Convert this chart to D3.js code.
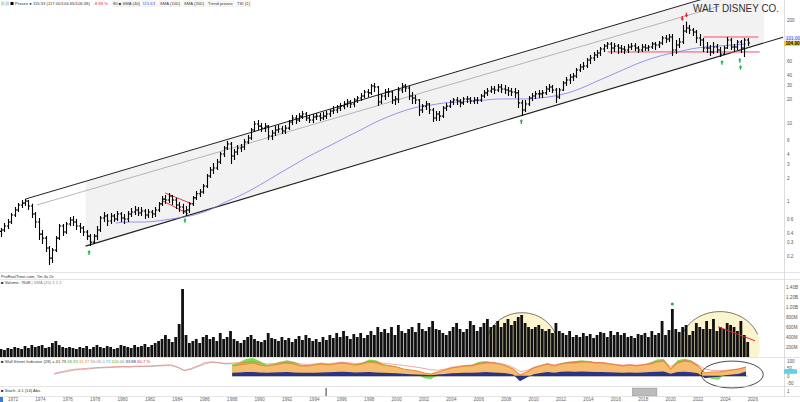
<!DOCTYPE html>
<meta charset="utf-8">
<title>Walt Disney Co.</title>
<style>
  body { margin: 0; background: #fff; }
  svg { display: block; font-family: "Liberation Sans", Arial, sans-serif; }
  .lab { font-size: 4.6px; fill: #555; }
  .hdr { font-size: 4.2px; fill: #333; }
</style>
<body>
<svg width="800" height="402"></svg>
<script src="https://cdnjs.cloudflare.com/ajax/libs/d3/7.8.5/d3.min.js"></script>
<script>
  // quarterly bars, 1971 Q1 .. 2025 Q3 (open = previous close)
  var firstYear = 1971;
  var firstOpen = 0.42;
  var high = [
    0.463,0.536,0.603,0.719, 0.858,0.96,1.05,1.08, 1.05,0.94,0.740,0.621, 0.437,0.366,0.273,0.258,
    0.366,0.521,0.521,0.552, 0.639,0.658,0.603,0.536, 0.491,0.437,0.388,0.388, 0.491,0.658,0.740,0.698,
    0.719,0.698,0.762,0.740, 0.698,0.762,0.833,0.884, 0.858,0.858,0.809,0.809, 0.785,0.858,0.99,1.18,
    1.22,1.29,1.22,1.12, 0.99,0.94,0.884,0.99, 1.18,1.37,1.45,1.68, 2.25,2.76,3.10,3.49,
    4.28,5.10,5.91,5.74, 4.67,5.25,5.41,6.27, 7.05,8.61,10.6,10.9, 10.0,10.0,9.4,8.15,
    9.13,9.4,9.13,9.4, 10.9,12.6,12.6,13.4, 14.2,13.8,12.6,13.0, 13.4,13.4,13.8,14.2,
    15.0,16.4,16.9,18.0, 19.0,20.2,19.6,20.8, 22.0,24.1,26.3,27.0, 31.3,32.2,29.5,23.4,
    27.0,27.8,25.5,22.0, 28.7,32.2,31.3,29.5, 24.8,22.7,20.2,17.4, 19.0,18.0,15.5,14.2,
    14.2,16.4,18.0,19.6, 20.8,21.4,20.2,21.4, 22.0,21.4,21.4,21.4, 23.4,26.3,27.8,29.5,
    29.5,31.3,31.3,30.4, 28.7,27.8,27.8,26.3, 19.6,19.6,22.0,24.1, 25.5,26.3,26.3,29.5,
    31.3,30.4,27.8,27.8, 34.2,38.4,41.9,43.1, 49.9,56.1,59.5,67.0, 73.1,79.9,84.7,92.4,
    101,107,107,104, 101,98,95.2,101, 104,104,95.2,101, 101,98,107,107,
    110,127,131,135, 135,113.5,120,176, 195,176,161,152, 135,120,107,98,
    107,101,92.4,95.2, 123.7,120,101,113.5, 113.5,120,120
  ];
  var low = [
    0.356,0.412,0.450,0.521, 0.639,0.740,0.833,0.884, 0.785,0.621,0.463,0.326, 0.290,0.229,0.157,0.166,
    0.229,0.326,0.366,0.388, 0.491,0.491,0.437,0.400, 0.366,0.326,0.273,0.290, 0.326,0.412,0.552,0.491,
    0.521,0.552,0.568,0.552, 0.521,0.552,0.639,0.678, 0.658,0.658,0.603,0.621, 0.621,0.639,0.740,0.884,
    0.94,0.96,0.91,0.809, 0.740,0.698,0.658,0.719, 0.884,1.05,1.15,1.26, 1.49,2.00,2.25,2.53,
    3.02,3.70,4.54,3.02, 3.39,3.92,4.28,4.54, 5.41,6.08,7.68,8.15, 7.68,7.68,6.08,6.08,
    6.85,7.46,7.25,7.25, 8.15,9.4,9.7,10.3, 11.2,10.6,10.0,10.0, 10.9,10.6,10.9,11.2,
    11.9,13.0,13.4,14.2, 15.0,15.9,15.5,15.9, 18.0,19.0,20.8,21.4, 22.7,24.8,16.4,17.4,
    19.6,21.4,17.4,16.9, 18.0,24.1,24.8,19.6, 17.4,17.4,12.24,13.4, 14.6,13.0,10.3,10.6,
    10.6,11.55,14.2,15.5, 16.9,16.9,15.9,16.9, 18.0,17.4,17.4,17.4, 18.5,20.8,22.0,24.1,
    23.4,24.8,24.1,23.4, 22.0,22.0,20.8,15.5, 12.24,13.8,16.4,19.0, 20.2,20.8,20.8,22.7,
    24.8,24.1,18.0,20.2, 25.5,29.5,31.3,34.2, 37.3,44.4,47.1,49.9, 56.1,61.3,67.0,71.0,
    79.9,87.2,75.3,79.9, 75.3,77.6,75.3,77.6, 84.7,82.3,77.6,79.9, 82.3,82.3,87.2,84.7,
    89.8,98,104,107, 71.0,75.3,89.8,101, 139.2,135.2,127.3,104, 95.2,79.9,77.6,71.0,
    75.3,77.6,69.0,73.1, 87.2,84.7,79.9,84.7, 77.6,69.0,95.2
  ];
  var close = [
    0.437,0.491,0.552,0.678, 0.785,0.91,0.96,1.02, 0.884,0.698,0.552,0.388, 0.345,0.258,0.192,0.243,
    0.345,0.491,0.412,0.521, 0.585,0.552,0.491,0.463, 0.412,0.366,0.307,0.366, 0.437,0.621,0.658,0.568,
    0.658,0.603,0.698,0.621, 0.603,0.698,0.740,0.785, 0.719,0.762,0.678,0.740, 0.698,0.785,0.94,1.08,
    1.05,1.18,1.05,0.91, 0.858,0.762,0.785,0.94, 1.12,1.26,1.33,1.58, 2.12,2.53,2.68,3.20,
    4.04,4.81,5.41,3.81, 4.28,4.81,4.95,5.74, 6.45,8.15,9.7,9.13, 8.61,9.13,6.85,7.46,
    8.15,8.37,7.91,8.61, 10.3,11.55,10.9,12.24, 13.0,11.55,10.9,11.9, 12.24,11.55,12.24,13.0,
    14.2,14.6,15.5,16.4, 17.4,18.5,17.4,19.6, 20.8,22.0,24.8,24.1, 29.5,28.7,18.5,22.0,
    24.8,24.8,19.6,20.2, 26.3,29.5,27.8,22.0, 20.8,19.6,14.6,16.4, 17.4,14.6,11.55,13.0,
    12.24,15.5,16.4,18.5, 19.6,19.0,18.0,20.2, 20.2,19.0,19.6,19.6, 22.0,24.1,25.5,27.0,
    26.3,28.7,27.0,26.3, 25.5,24.8,24.1,18.0, 14.6,17.4,20.8,22.0, 23.4,23.4,24.1,27.0,
    28.7,26.3,21.4,26.3, 32.2,35.2,38.4,39.5, 47.1,51.4,52.9,63.1, 67.0,73.1,77.6,87.2,
    95.2,101,89.8,95.2, 89.8,87.2,84.7,92.4, 95.2,89.8,84.7,92.4, 89.8,92.4,101,98,
    104,120,116.7,123.7, 84.7,98,107,147.6, 161,152,143.4,120, 113.5,89.8,89.8,79.9,
    92.4,84.7,75.3,89.8, 113.5,92.4,92.4,107, 89.8,113.5,104
  ];
  // quarterly volume, millions of shares
  var volume = [
    160,140,180,160, 200,180,160,220, 180,240,200,220, 240,180,200,280, 320,240,200,180,
    200,180,160,200, 180,220,160,200, 240,200,180,220, 200,160,180,240, 220,200,180,240,
    200,220,260,200, 240,280,320,360, 440,360,300,400, 660,1360,440,280, 320,360,280,400,
    440,360,400,320, 480,360,400,520, 360,320,280,340, 400,440,360,320, 300,340,480,380,
    360,320,400,340, 380,300,360,420, 340,440,380,320, 360,300,400,340, 440,380,480,400,
    520,420,360,460, 400,480,380,440, 520,440,600,500, 560,480,600,440, 640,520,480,560,
    600,500,680,560, 520,600,720,560, 540,480,440,520, 600,680,560,500, 560,720,640,520,
    600,680,760,600, 640,720,600,680, 760,640,720,800, 840,680,600,560, 600,640,560,520,
    560,480,680,520, 480,440,520,400, 440,400,480,420, 460,380,440,500, 480,400,520,440,
    500,440,480,400, 420,380,460,440, 480,400,520,440, 480,720,440,540, 960,560,500,600,
    640,440,520,680, 600,560,720,560, 760,520,600,560, 680,640,600,520, 720,440,300
  ];

  // long moving average, read yearly (mid-year)
  var maStart = 1979.5;
  var maValues = [0.536,0.552,0.552,0.568,0.603,0.639,0.698,0.809,0.99,1.18,1.45,1.83,2.32,2.93,3.70,
    4.54,5.57,6.85,8.37,10.3,12.24,14.2,15.9,16.9,18.0,18.5,19.0,19.6,20.2,20.2,20.2,20.8,22.0,24.1,
    27.8,33.2,39.5,47.1,56.1,65.0,73.1,79.9,87.2,92.4,95.2,98,101];

  // trend channel, [year, price] anchors
  var upperLine = [[1972.9, 1.08], [2021.0, 320]];
  var midLine = [[1973.75, 0.91], [2023.6, 307]];
  var lowerLine = [[1977.3, 0.273], [2028.2, 123]];
  var channelSpan = [1977.3, 2027.0];
  var wedgeLines = [[[1983.1, 1.29], [1985.05, 0.94]], [[1982.95, 1.02], [1984.8, 0.70]]];
  var redLevels = [[2022.4, 2026.4, 123.7], [2015.4, 2026.5, 79.9]];
  var buySignals = [[1977.55, 0.243], [1984.55, 0.62], [2009.1, 11.2], [2023.75, 63.1], [2025.05, 67.0], [2025.1, 54.5]];
  var sellSignals = [[2020.85, 198], [2021.15, 219]];
  var priceTicks = [200, 60, 40, 30, 20, 10, 6, 4, 3, 2, 1, 0.6, 0.4, 0.3, 0.2];

  // volume annotations
  var volDomes = [[2009.15, 2.63, 216, 670], [2023.6, 2.92, 216, 692]]; // centre year, half width (years), centre vol, radius vol
  var volTrend = [[2023.46, 605], [2026.16, 324]];
  var volSignal = [2020.125, 1060];
  var volTicks = [1400, 1200, 1000, 800, 600, 400, 200];

  // sentiment indicator, semi-annual
  var indStart = 1988;
  var orangeVals = [67,73,80,87,73,67,73,80,87,80, 67,67,73,80,73,80,87,80,73,80, 93,87,73,67,60,47,40,33,20,13,
    27,40,53,60,67,67,80,87,87,80, 67,47,7,27,53,67,80,67,80,87, 87,93,93,87,87,80,73,67,73,67,
    73,80,93,100,47,87,100,93,67,20, 27,27,33,40,47,60];
  var greenVals = [80,90,113,120,100,75,80,95,105,95, 75,70,78,85,78,85,92,85,78,90, 110,105,80,70,62,45,30,10,-15,-20,
    5,38,55,62,70,75,95,100,92,82, 68,45,0,25,55,70,85,70,85,95, 100,105,100,92,90,82,75,68,75,68,
    75,90,110,113,50,105,115,105,70,5, -20,-25,20,38,48,60];
  var navyVals = [22,24,26,27,24,22,23,25,26,24, 22,21,22,24,25,27,28,26,24,25, 27,24,22,20,18,15,12,10,8,6,
    10,14,18,20,22,22,24,26,24,22, 18,10,-35,-10,12,20,26,22,28,30, 28,30,28,26,27,25,24,22,24,22,
    24,26,28,30,15,26,28,25,18,-15, -8,-5,5,10,15,30];
  var redStart = 1975;
  var redVals = [18,28,38,45,48,52,55,58,60,62, 63,64,66,65,67,70,72,74,60,35, 50,68,88,95,90,84,86,88,92,96,
    88,80,82,88,94,90,80,76,80,86, 82,86,92,88,82,86,98,95,85,80, 76,70,64,58,50,42,38,45,58,64,
    70,72,84,90,90,85,74,58,30,36, 58,70,82,74,82,90,92,96,96,90, 90,84,78,72,76,72,76,84,96,102,
    62,90,102,98,75,45,38,35,38,42, 48,58];
  var greyVals = [12,22,30,40,44,46,52,54,56,58, 60,58,62,63,62,66,68,70,58,38, 45,62,80,90,86,80,82];
  var indRing = [2024.5, 2.26, 10, 89];  // centre year, half width (years), centre value, half height
  var indTicks = [100, 50, 0, -50];

  var stochMarks = [1994.85];
  var stochBlock = [2017.2, 2019.0];

  var yearTicks = d3.range(1972, 2027, 2);

  // ---------------------------------------------------------------
  var svg = d3.select('svg');
  var axisX = 784;
  var x = d3.scaleLinear().domain([1971.05, 2028.2]).range([0, 783]);
  var y = d3.scaleLog().domain([0.128, 365]).range([272, 0]);
  var yVol = d3.scaleLinear().domain([0, 1480]).range([357, 283]);
  var yInd = d3.scaleLinear().domain([-66, 126]).range([386, 357]);
  var qt = function (i) { return firstYear + i / 4 + 0.125; };

  var defs = svg.append('defs');
  function clip(id, y0, h) {
    defs.append('clipPath').attr('id', id).append('rect')
      .attr('x', 0).attr('y', y0).attr('width', axisX).attr('height', h);
  }
  clip('cp', 0, 272); clip('cv', 279, 78); clip('ci', 357, 29);

  function along(line, t) {
    var a = line[0], b = line[1], k = (t - a[0]) / (b[0] - a[0]);
    return Math.exp(Math.log(a[1]) + k * (Math.log(b[1]) - Math.log(a[1])));
  }

  // ---- price panel
  var gp = svg.append('g').attr('clip-path', 'url(#cp)');

  var ts = d3.range(channelSpan[0], channelSpan[1] + 0.01, 0.5);
  var poly = ts.map(function (t) { return [x(t), y(along(upperLine, t))]; })
    .concat(ts.slice().reverse().map(function (t) { return [x(t), y(along(lowerLine, t))]; }));
  gp.append('path').attr('d', 'M' + poly.join('L') + 'Z').attr('fill', '#f2f2f2');

  function seg(line, t0, t1, col, w) {
    gp.append('line')
      .attr('x1', x(t0)).attr('y1', y(along(line, t0)))
      .attr('x2', x(t1)).attr('y2', y(along(line, t1)))
      .attr('stroke', col).attr('stroke-width', w);
  }
  seg(upperLine, upperLine[0][0], 2024, '#222', 1);
  seg(midLine, midLine[0][0], midLine[1][0], '#9a9a9a', 0.7);
  seg(lowerLine, lowerLine[0][0], lowerLine[1][0], '#222', 1.1);

  var maLine = d3.line()
    .x(function (d, i) { return x(maStart + i); })
    .y(function (d) { return y(d); })
    .curve(d3.curveMonotoneX);
  gp.append('path').attr('d', maLine(maValues))
    .attr('fill', 'none').attr('stroke', '#7b7bf0').attr('stroke-width', 0.8);

  wedgeLines.forEach(function (l) {
    gp.append('line')
      .attr('x1', x(l[0][0])).attr('y1', y(l[0][1]))
      .attr('x2', x(l[1][0])).attr('y2', y(l[1][1]))
      .attr('stroke', '#e8202a').attr('stroke-width', 0.9);
  });
  redLevels.forEach(function (l) {
    gp.append('line')
      .attr('x1', x(l[0])).attr('x2', x(l[1]))
      .attr('y1', y(l[2])).attr('y2', y(l[2]))
      .attr('stroke', '#f0506a').attr('stroke-width', 1);
  });

  var bars = '';
  close.forEach(function (c, i) {
    var xi = Math.round(x(qt(i))) + 0.5;
    var o = i === 0 ? firstOpen : close[i - 1];
    bars += 'M' + xi + ',' + y(high[i]) + 'V' + y(low[i]) +
      'M' + (xi - 1.6) + ',' + y(o) + 'H' + xi +
      'M' + xi + ',' + y(c) + 'H' + (xi + 1.6);
  });
  gp.append('path').attr('d', bars).attr('fill', 'none').attr('stroke', '#000').attr('stroke-width', 1.1);

  buySignals.forEach(function (s) {
    var cx = x(s[0]), cy = y(s[1]);
    gp.append('path')
      .attr('d', 'M' + cx + ',' + cy + 'l-1.8,2.4h1.1v2.4h1.4v-2.4h1.1z')
      .attr('fill', '#22b14c');
  });
  sellSignals.forEach(function (s) {
    var cx = x(s[0]), cy = y(s[1]);
    gp.append('path')
      .attr('d', 'M' + cx + ',' + cy + 'l-1.8,-2.4h1.1v-2.4h1.4v2.4h1.1z')
      .attr('fill', '#e8202a');
  });

  svg.append('text').attr('x', 693).attr('y', 11.5)
    .attr('font-size', 11).attr('fill', '#333')
    .attr('textLength', 86).attr('lengthAdjust', 'spacingAndGlyphs')
    .text('WALT DISNEY CO.');

  // ---- volume panel
  var gv = svg.append('g').attr('clip-path', 'url(#cv)');
  var pxYear = x(1973) - x(1972), pxVol = yVol(0) - yVol(1);
  volDomes.forEach(function (d) {
    var cx = x(d[0]), cy = yVol(d[2]), rx = d[1] * pxYear, ry = d[3] * pxVol;
    gv.append('ellipse').attr('cx', cx).attr('cy', cy).attr('rx', rx).attr('ry', ry)
      .attr('fill', '#fcf4cc');
    var arc = d3.range(200, 341, 4).map(function (a) {
      var r = a * Math.PI / 180;
      return [cx + rx * Math.cos(r), cy + ry * Math.sin(r)];
    });
    gv.append('path').attr('d', 'M' + arc.join('L'))
      .attr('fill', 'none').attr('stroke', '#555').attr('stroke-width', 0.8);
  });
  gv.selectAll('rect.v').data(volume).enter().append('rect')
    .attr('x', function (d, i) { return x(qt(i)) - 1.4; })
    .attr('width', 2.8)
    .attr('y', function (d) { return yVol(d); })
    .attr('height', function (d) { return yVol(0) - yVol(d); })
    .attr('fill', '#111');
  gv.append('line')
    .attr('x1', x(volTrend[0][0])).attr('y1', yVol(volTrend[0][1]))
    .attr('x2', x(volTrend[1][0])).attr('y2', yVol(volTrend[1][1]))
    .attr('stroke', '#e8202a').attr('stroke-width', 1);
  gv.append('circle').attr('cx', x(volSignal[0])).attr('cy', yVol(volSignal[1]))
    .attr('r', 1.6).attr('fill', '#22b14c');

  // ---- indicator panel
  var gi = svg.append('g').attr('clip-path', 'url(#ci)');
  var it = function (i) { return indStart + i * 0.5; };
  function area(vals) {
    return d3.area().x(function (d, i) { return x(it(i)); })
      .y0(yInd(0)).y1(function (d) { return yInd(d); })(vals);
  }
  gi.append('path').attr('d', area(greenVals)).attr('fill', '#7fdc4e');
  gi.append('path').attr('d', area(orangeVals)).attr('fill', '#f6bd70');
  gi.append('path').attr('d', d3.line().x(function (d, i) { return x(it(i)); })
    .y(function (d) { return yInd(d); })(orangeVals))
    .attr('fill', 'none').attr('stroke', '#ea8d2c').attr('stroke-width', 1.1);
  gi.append('path').attr('d', area(navyVals)).attr('fill', '#2b3487');
  gi.append('line').attr('x1', x(indStart)).attr('x2', x(2025.6))
    .attr('y1', yInd(0)).attr('y2', yInd(0)).attr('stroke', '#333').attr('stroke-width', 0.6);
  var lineFrom = function (start) {
    return d3.line().x(function (d, i) { return x(start + i * 0.5); })
      .y(function (d) { return yInd(d); });
  };
  gi.append('path').attr('d', lineFrom(redStart)(greyVals))
    .attr('fill', 'none').attr('stroke', '#999').attr('stroke-width', 0.6);
  gi.append('path').attr('d', lineFrom(redStart)(redVals))
    .attr('fill', 'none').attr('stroke', '#ef6a6a').attr('stroke-width', 0.6);
  svg.append('ellipse')
    .attr('cx', x(indRing[0])).attr('cy', yInd(indRing[2]))
    .attr('rx', indRing[1] * pxYear).attr('ry', yInd(0) - yInd(indRing[3]))
    .attr('fill', 'none').attr('stroke', '#333').attr('stroke-width', 0.9);

  // ---- stoch strip
  stochMarks.forEach(function (t) {
    svg.append('rect').attr('x', x(t) - 0.5).attr('y', 388).attr('width', 1).attr('height', 8).attr('fill', '#333');
  });
  svg.append('rect').attr('x', x(stochBlock[0])).attr('y', 388)
    .attr('width', x(stochBlock[1]) - x(stochBlock[0])).attr('height', 8)
    .attr('fill', '#bbb').attr('stroke', '#888').attr('stroke-width', 0.4);

  // ---- frames and axes
  [272.5, 279.5, 357.5, 386.5, 396.5].forEach(function (yy) {
    svg.append('line').attr('x1', 0).attr('x2', 800).attr('y1', yy).attr('y2', yy)
      .attr('stroke', '#d4d4d4').attr('stroke-width', 0.6);
  });
  svg.append('line').attr('x1', axisX + 0.5).attr('x2', axisX + 0.5).attr('y1', 0).attr('y2', 397)
    .attr('stroke', '#cfcfcf').attr('stroke-width', 0.7);

  priceTicks.forEach(function (v) {
    svg.append('text').attr('class', 'lab').attr('x', 787).attr('y', y(v) + 1.6).text(v);
  });
  var last = close[close.length - 1], lastMa = maValues[maValues.length - 1];
  svg.append('rect').attr('x', 784).attr('y', y(last) - 6.3).attr('width', 16).attr('height', 4.6).attr('fill', '#e4e4fb');
  svg.append('text').attr('class', 'lab').attr('x', 786).attr('y', y(last) - 2.5).style('fill', '#5050e0').text(lastMa.toFixed(2));
  svg.append('rect').attr('x', 784).attr('y', y(last) - 1.8).attr('width', 16).attr('height', 4.8).attr('fill', '#f3d416');
  svg.append('text').attr('class', 'lab').attr('x', 785.5).attr('y', y(last) + 1.8)
    .style('fill', '#000').attr('font-weight', 'bold').text(last.toFixed(2));

  volTicks.forEach(function (v) {
    svg.append('text').attr('class', 'lab').attr('x', 786).attr('y', yVol(v) + 1.6)
      .text(v >= 1000 ? (v / 1000).toFixed(2) + 'B' : v + 'M');
  });
  indTicks.forEach(function (v) {
    svg.append('text').attr('class', 'lab').attr('x', 787).attr('y', yInd(v) + 1.6).text(v);
  });
  svg.append('rect').attr('x', 784).attr('y', yInd(navyVals[navyVals.length - 1]) - 2.3).attr('width', 13).attr('height', 4.6).attr('fill', '#5fd0e8');
  svg.append('text').attr('class', 'lab').attr('x', 787).attr('y', 393).text('1');

  yearTicks.forEach(function (yr) {
    svg.append('text').attr('class', 'lab').attr('x', x(yr)).attr('y', 401)
      .attr('text-anchor', 'middle').style('fill', '#666').text(yr);
  });
  svg.append('rect').attr('x', 0).attr('y', 397).attr('width', 3).attr('height', 5).attr('fill', '#3a7bd5');

  // ---- header texts
  var head = svg.append('g');
  head.append('rect').attr('x', 1).attr('y', 1.5).attr('width', 3.5).attr('height', 4).attr('fill', '#bfe3c6');
  head.append('rect').attr('x', 5.5).attr('y', 1.5).attr('width', 3.5).attr('height', 4).attr('fill', '#c6d8ef');
  head.append('rect').attr('x', 10.5).attr('y', 2).attr('width', 3).attr('height', 3).attr('fill', '#000');
  function hText(str, x0, col) {
    return head.append('text').attr('class', 'hdr').attr('x', x0).attr('y', 5.3)
      .style('fill', col || '#333').text(str);
  }
  hText('Prezzo ● 115.53 (117.00/104.65/106.58)', 15);
  hText('-8.83 %', 93.5, '#e8202a');
  var tags = [['80 ■ SMA (40)', 112, 45, '113.63'], ['SMA (100)', 159, 22], ['SMA (200)', 183, 22], ['Trend prezzo', 207, 27], ['TSI (1)', 236, 15]];
  tags.forEach(function (g) {
    head.append('rect').attr('x', g[1]).attr('y', 1).attr('width', g[2]).attr('height', 5.5)
      .attr('fill', '#fafafa').attr('stroke', '#ddd').attr('stroke-width', 0.4).attr('rx', 1);
    hText(g[0], g[1] + 1);
    if (g[3]) hText(g[3], g[1] + 30.5, '#5050e0');
  });

  svg.append('text').attr('class', 'hdr').attr('x', 1).attr('y', 277.5).text('ProRealTime.com, 7m 4x 2x');
  var vh = svg.append('text').attr('class', 'hdr').attr('x', 1).attr('y', 284);
  vh.append('tspan').text('■ Volume: 7648  ');
  vh.append('tspan').style('fill', '#888').text('| SMA (20) 1.1.1');

  var ih = svg.append('text').attr('class', 'hdr').attr('x', 1).attr('y', 362.5);
  ih.append('tspan').text('■ Wall Street Indicator (28) = 41.73  ');
  [['68.93  ', '#4caf30'], ['31.37  ', '#e8902c'], ['55.05  ', '#888'], ['0.73  ', '#29b6d6'], ['100.00  ', '#4caf30'], ['33.88  ', '#2b3487'], ['60.7 %', '#e8202a']]
    .forEach(function (p) { ih.append('tspan').style('fill', p[1]).text(p[0]); });
  svg.append('text').attr('class', 'hdr').attr('x', 1).attr('y', 391.5).text('■ Stoch. 4.1 (14) Abs');
</script>
</body>
